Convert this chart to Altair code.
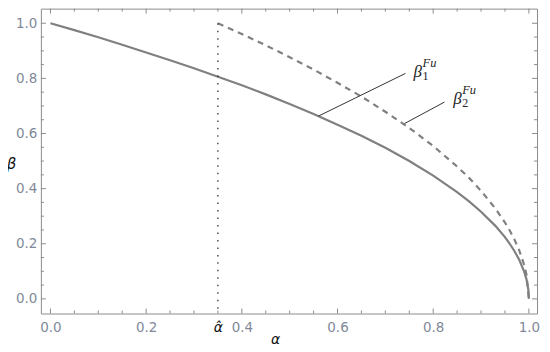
import altair as alt
import pandas as pd

# ---- data ----
alpha1 = [0.0, 0.05, 0.1, 0.15, 0.2, 0.25, 0.3, 0.35, 0.4, 0.45, 0.5, 0.55, 0.6, 0.65, 0.7,
          0.75, 0.8, 0.85, 0.875, 0.9, 0.93, 0.95, 0.96, 0.97, 0.98, 0.99, 0.995, 0.999, 1.0]
beta1 = [1.0, 0.975, 0.949, 0.922, 0.894, 0.866, 0.837, 0.806, 0.775, 0.742, 0.707, 0.671, 0.632,
         0.592, 0.548, 0.5, 0.447, 0.387, 0.354, 0.316, 0.265, 0.224, 0.2, 0.173, 0.141, 0.1,
         0.071, 0.032, 0.0]

alpha2 = [0.35, 0.4, 0.45, 0.5, 0.55, 0.6, 0.65, 0.7, 0.75, 0.8, 0.85, 0.875, 0.9, 0.93, 0.95,
          0.96, 0.97, 0.98, 0.99, 0.995, 1.0]
beta2 = [1.0, 0.961, 0.92, 0.877, 0.832, 0.784, 0.734, 0.679, 0.62, 0.555, 0.48, 0.439, 0.392,
         0.328, 0.277, 0.248, 0.215, 0.175, 0.124, 0.088, 0.0]

alpha_hat = 0.35
hat_top = 1.0

x_label_values = [0.0, 0.2, 0.35, 0.4, 0.6, 0.8, 1.0]
y_label_values = [0.0, 0.2, 0.4, 0.6, 0.8, 1.0]
major_values = [0.0, 0.2, 0.4, 0.6, 0.8, 1.0]
minor_values = [0.05, 0.1, 0.15, 0.25, 0.3, 0.35, 0.45, 0.5, 0.55, 0.65, 0.7, 0.75,
                0.85, 0.9, 0.95]

# pointer lines (curve point -> label)
ptr_a1 = [0.56, 0.740]
ptr_b1 = [0.663, 0.636]
ptr_a2 = [0.742, 0.8235]
ptr_b2 = [0.818, 0.714]

# label anchors
lab_a = [0.759, 0.842]
lab_b = [0.804, 0.706]
lab_sub = ["1", "2"]

# ---- layout ----
W, H = 498, 306
XD = [-0.02, 1.017]
YD = [-0.053, 1.053]
FRAME = "#8c8c8c"
LABEL = "#7f8999"
CURVE = "#808080"
MAJOR_LEN, MINOR_LEN = 5, 3

df1 = pd.DataFrame({"a": alpha1, "b": beta1})
df2 = pd.DataFrame({"a": alpha2, "b": beta2})
dfh = pd.DataFrame({"a": [alpha_hat], "b": [hat_top]})
dfp = pd.DataFrame({"a": ptr_a1, "b": ptr_b1, "a2": ptr_a2, "b2": ptr_b2})
dfl = pd.DataFrame({"a": lab_a, "b": lab_b, "s": lab_sub, "beta": ["β", "β"], "fu": ["Fu", "Fu"]})


def xs():
    return alt.Scale(domain=XD, nice=False, zero=False)


def ys():
    return alt.Scale(domain=YD, nice=False, zero=False)


is_hat = "abs(datum.value - 0.35) < 0.001"

x_label_axis = alt.Axis(
    orient="bottom", values=x_label_values, ticks=False, domain=False, grid=False,
    labelPadding=7, labelFlush=False, labelOverlap=False,
    labelExpr="abs(datum.value - 0.35) < 0.001 ? 'α̂' : format(datum.value, '.1f')",
    labelColor={"condition": {"test": is_hat, "value": "#111111"}, "value": LABEL},
    labelFontStyle={"condition": {"test": is_hat, "value": "italic"}, "value": "normal"},
    labelFontSize={"condition": {"test": is_hat, "value": 14}, "value": 13.5},
    labelFont="DejaVu Sans",
    title="α", titleX=235, titleY=26, titleBaseline="middle", titleAlign="center",
    titleFont="DejaVu Sans", titleFontStyle="italic", titleFontWeight="normal",
    titleFontSize=14, titleColor="#111111",
)
y_label_axis = alt.Axis(
    orient="left", values=y_label_values, ticks=False, domain=False, grid=False,
    labelPadding=4, labelFlush=False, labelOverlap=False, format=".1f",
    labelColor=LABEL, labelFont="DejaVu Sans", labelFontSize=13.5,
    title="β", titleAngle=0, titleX=-30, titleY=155, titleBaseline="middle", titleAlign="center",
    titleFont="DejaVu Sans", titleFontStyle="italic", titleFontWeight="normal",
    titleFontSize=15, titleColor="#111111",
)

curve1 = alt.Chart(df1).mark_line(color=CURVE, strokeWidth=2.2, clip=True).encode(
    x=alt.X("a:Q", scale=xs(), axis=x_label_axis),
    y=alt.Y("b:Q", scale=ys(), axis=y_label_axis),
)

curve2 = alt.Chart(df2).mark_line(color=CURVE, strokeWidth=2.2, strokeDash=[6, 5], clip=True).encode(
    x=alt.X("a:Q", scale=xs(), axis=None),
    y=alt.Y("b:Q", scale=ys(), axis=None),
)

hat_line = alt.Chart(dfh).mark_rule(color="#222222", strokeWidth=1.2, strokeDash=[1.5, 6]).encode(
    x=alt.X("a:Q", scale=xs(), axis=None),
    y=alt.Y("b:Q", scale=ys(), axis=None),
    y2=alt.value(H),
)


# inward frame ticks on all four sides, drawn from the tick value lists through the scales
def x_ticks(values, length):
    d = pd.DataFrame({"v": values})
    bottom = alt.Chart(d).mark_rule(color=FRAME, strokeWidth=1).encode(
        x=alt.X("v:Q", scale=xs(), axis=None), y=alt.value(H), y2=alt.value(H - length))
    top = alt.Chart(d).mark_rule(color=FRAME, strokeWidth=1).encode(
        x=alt.X("v:Q", scale=xs(), axis=None), y=alt.value(0), y2=alt.value(length))
    return [bottom, top]


def y_ticks(values, length):
    d = pd.DataFrame({"v": values})
    left = alt.Chart(d).mark_rule(color=FRAME, strokeWidth=1).encode(
        y=alt.Y("v:Q", scale=ys(), axis=None), x=alt.value(0), x2=alt.value(length))
    right = alt.Chart(d).mark_rule(color=FRAME, strokeWidth=1).encode(
        y=alt.Y("v:Q", scale=ys(), axis=None), x=alt.value(W), x2=alt.value(W - length))
    return [left, right]


tick_layers = (x_ticks(major_values, MAJOR_LEN) + x_ticks(minor_values, MINOR_LEN)
               + y_ticks(major_values, MAJOR_LEN) + y_ticks(minor_values, MINOR_LEN))

pointers = alt.Chart(dfp).mark_rule(color="#333333", strokeWidth=1).encode(
    x=alt.X("a:Q", scale=xs(), axis=None),
    y=alt.Y("b:Q", scale=ys(), axis=None),
    x2="a2:Q",
    y2="b2:Q",
)

beta_txt = alt.Chart(dfl).mark_text(
    align="left", baseline="alphabetic", font="Liberation Serif", fontStyle="italic",
    fontSize=17, color="#222222").encode(
    x=alt.X("a:Q", scale=xs(), axis=None),
    y=alt.Y("b:Q", scale=ys(), axis=None),
    text="beta:N",
)
sub_txt = alt.Chart(dfl).mark_text(
    align="left", baseline="alphabetic", font="Liberation Serif",
    fontSize=12, color="#222222", dx=9, dy=3).encode(
    x=alt.X("a:Q", scale=xs(), axis=None),
    y=alt.Y("b:Q", scale=ys(), axis=None),
    text="s:N",
)
sup_txt = alt.Chart(dfl).mark_text(
    align="left", baseline="alphabetic", font="Liberation Serif", fontStyle="italic",
    fontSize=12.5, color="#222222", dx=9, dy=-10).encode(
    x=alt.X("a:Q", scale=xs(), axis=None),
    y=alt.Y("b:Q", scale=ys(), axis=None),
    text="fu:N",
)

chart = alt.layer(
    curve1, curve2, hat_line, *tick_layers, pointers, beta_txt, sub_txt, sup_txt
).resolve_axis(
    x="independent", y="independent"
).properties(
    width=W, height=H,
    autosize=alt.AutoSizeParams(type="none"),
    padding={"left": 33, "top": 0, "right": 5, "bottom": 38},
    background="white",
).configure_view(
    stroke=FRAME, strokeWidth=1
)

chart.save("out.html", embed_options={"renderer": "svg", "actions": False})
